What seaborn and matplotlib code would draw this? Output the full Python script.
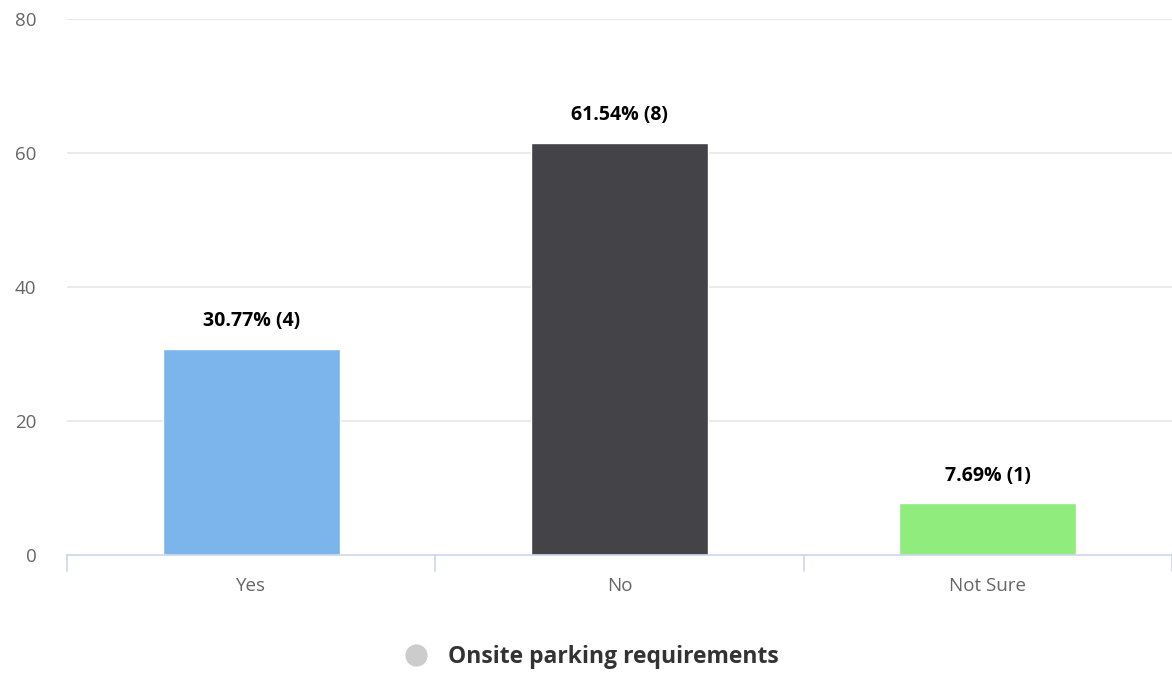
import matplotlib
matplotlib.use("Agg")
import matplotlib.pyplot as plt
from matplotlib.lines import Line2D
import seaborn as sns
import pandas as pd

# Data
categories = ["Yes", "No", "Not Sure"]
percents = [30.77, 61.54, 7.69]
counts = [4, 8, 1]
colors = ["#7cb5ec", "#434348", "#90ed7d"]
series_name = "Onsite parking requirements"
y_ticks = [0, 20, 40, 60, 80]

df = pd.DataFrame({"category": categories, "percent": percents})

sns.set_theme(style="white")
plt.rcParams["font.family"] = ["Open Sans", "DejaVu Sans"]

fig = plt.figure(figsize=(11.72, 6.74), dpi=100)
ax = fig.add_axes([0.0572, 0.1766, 0.9428, 0.7952])

sns.barplot(data=df, x="category", y="percent", hue="category",
            palette=colors, width=0.48, legend=False, ax=ax,
            saturation=1)

ax.set_xlim(-0.5, 2.5)
ax.set_ylim(0, 80)
ax.set_yticks(y_ticks)
ax.set_xlabel("")
ax.set_ylabel("")

# gridlines
for y in y_ticks[1:]:
    ax.axhline(y, color="#e6e6e6", lw=1.2, zorder=0)

for s in ["top", "right", "left"]:
    ax.spines[s].set_visible(False)
ax.spines["bottom"].set_color("#ccd6eb")
ax.spines["bottom"].set_linewidth(1.2)

ax.tick_params(axis="y", length=0, pad=22, labelsize=13.5, labelcolor="#666666")
ax.tick_params(axis="x", length=0, pad=16, labelsize=13.5, labelcolor="#666666")

# category boundary ticks
for xb in [-0.5, 0.5, 1.5, 2.5]:
    ax.plot([xb, xb], [0, -2.4], color="#ccd6eb", lw=1.2, clip_on=False)

# data labels
for i, (p, c) in enumerate(zip(percents, counts)):
    ax.text(i, p + 2.6, f"{p:.2f}% ({c})", ha="center", va="bottom",
            fontsize=14, fontweight="bold", color="#000000")

handle = Line2D([], [], marker="o", linestyle="", markersize=15,
                markerfacecolor="#cccccc", markeredgecolor="#cccccc")
fig.legend([handle], [series_name], loc="center", bbox_to_anchor=(0.5, 0.025),
           frameon=False, prop={"size": 16.5, "weight": "bold"},
           labelcolor="#333333", handletextpad=0.4)

fig.savefig("out.png", dpi=100)
